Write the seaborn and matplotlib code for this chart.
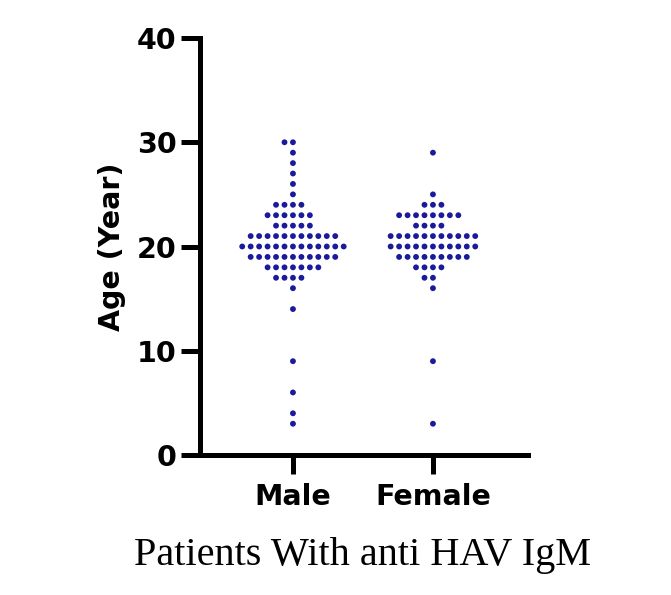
import matplotlib
matplotlib.use("Agg")
import matplotlib.pyplot as plt
import seaborn as sns
import pandas as pd
import numpy as np

# ---- data (ages, value -> count) ----
male_ages = [30, 29, 28, 27, 26, 25, 24, 23, 22, 21, 20, 19, 18, 17, 16, 14, 9, 6, 4, 3]
male_counts = [2, 1, 1, 1, 1, 1, 4, 6, 5, 11, 13, 11, 7, 4, 1, 1, 1, 1, 1, 1]
female_ages = [29, 25, 24, 23, 22, 21, 20, 19, 18, 17, 16, 9, 3]
female_counts = [1, 1, 3, 8, 4, 11, 11, 9, 4, 2, 1, 1, 1]
categories = ["Male", "Female"]
y_ticks = [0, 10, 20, 30, 40]

rows = []
for a, c in zip(male_ages, male_counts):
    rows += [("Male", a)] * c
for a, c in zip(female_ages, female_counts):
    rows += [("Female", a)] * c
df = pd.DataFrame(rows, columns=["group", "age"])

sns.set_style("white")
plt.rcParams["font.family"] = ["DejaVu Sans"]
plt.rcParams["text.color"] = "black"
plt.rcParams["axes.labelcolor"] = "black"
plt.rcParams["xtick.color"] = "black"
plt.rcParams["ytick.color"] = "black"

fig = plt.figure(figsize=(6.71, 5.95), dpi=100)
ax = fig.add_axes([200/671, 1-455/595, (528-200)/671, (455-38)/595])

sns.swarmplot(data=df, x="group", y="age", order=categories, ax=ax,
              color="#1a1a9a", size=4.2, edgecolor="none", linewidth=1.6)

ax.set_ylim(0, 40)
ax.set_xlim(-0.664, 1.679)
ax.set_yticks(y_ticks)
ax.set_yticklabels([str(t) for t in y_ticks], fontsize=20.5, fontweight="bold")
ax.set_xticks([0, 1])
ax.set_xticklabels(categories, fontsize=20.5, fontweight="bold")
ax.set_xlabel("")
ax.set_ylabel("Age (Year)", fontsize=20.5, fontweight="bold", labelpad=8)

for side in ["top", "right"]:
    ax.spines[side].set_visible(False)
for side in ["left", "bottom"]:
    ax.spines[side].set_linewidth(3.6)
    ax.spines[side].set_color("black")
ax.tick_params(axis="both", direction="out", length=14, width=3.6, color="black",
               labelcolor="black", left=True, bottom=True)
ax.tick_params(axis="x", pad=6)
ax.tick_params(axis="y", pad=3)

fig.text(362/671, 1-555/595, "Patients With anti HAV IgM", ha="center", va="center",
         fontsize=29, family="Liberation Serif", color="black")

fig.savefig("out.png", dpi=100)
